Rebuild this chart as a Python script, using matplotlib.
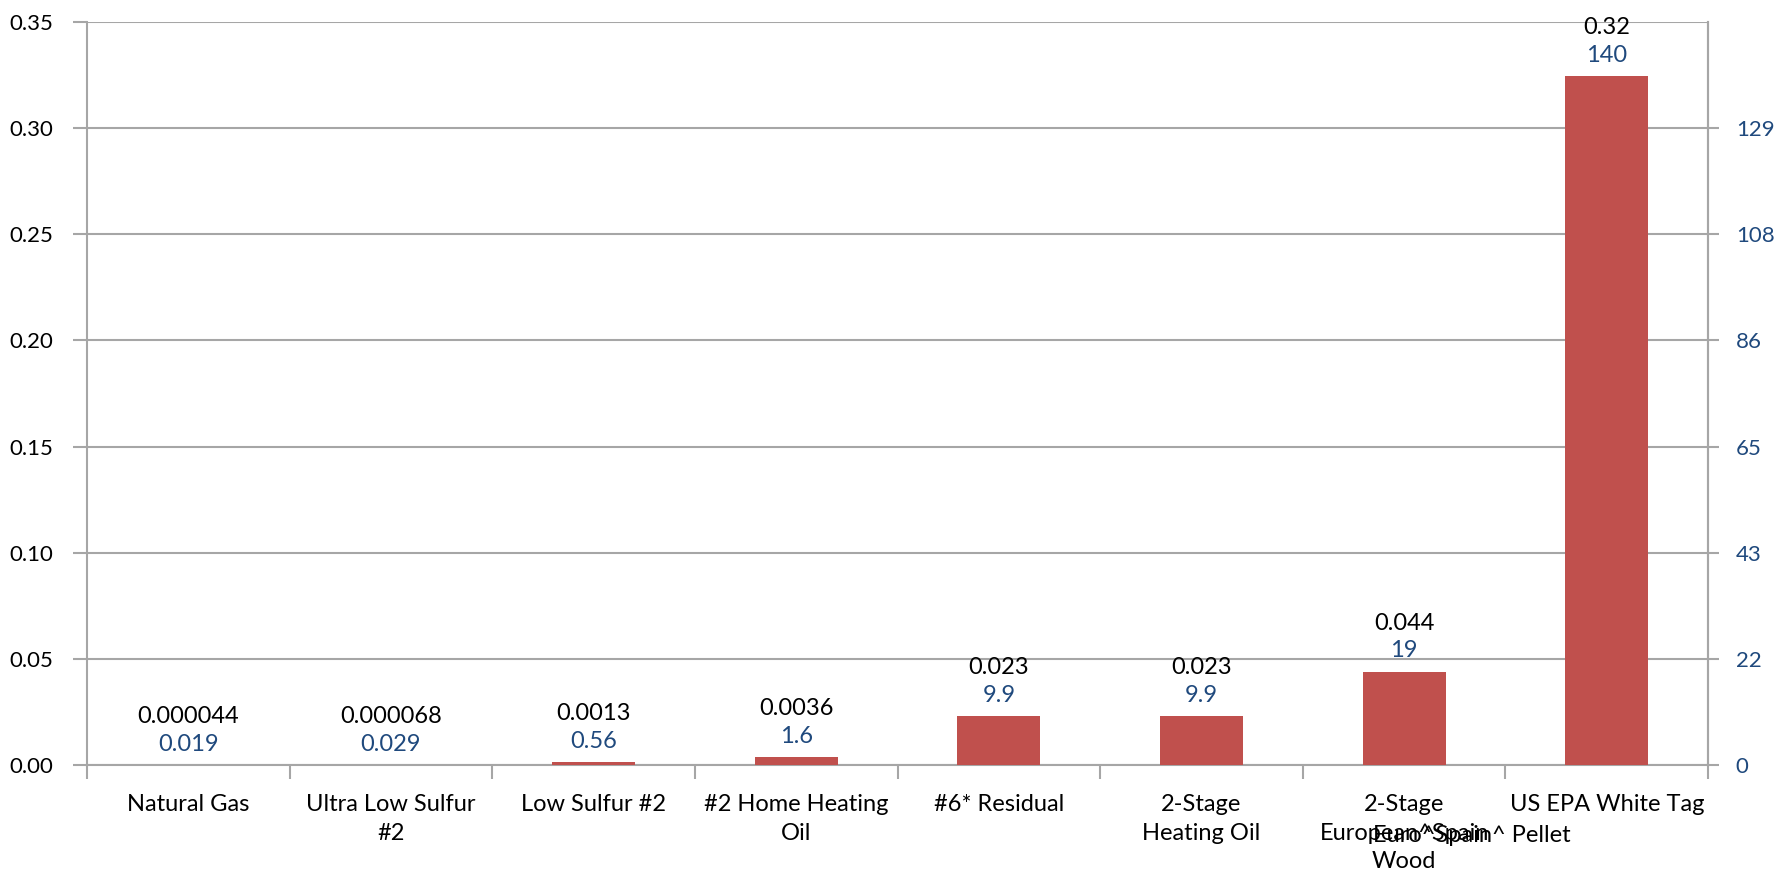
import numpy as np
import matplotlib
matplotlib.use("Agg")
import matplotlib.pyplot as plt
from matplotlib.ticker import FixedLocator

plt.rcParams['font.family'] = ['Lato', 'DejaVu Sans']

categories = ["Natural Gas", "Ultra Low Sulfur\n#2", "Low Sulfur #2",
              "#2 Home Heating\nOil", "#6* Residual", "2-Stage\nHeating Oil",
              "2-Stage\nEuropean^Spain\nWood", "US EPA White Tag"]
extra_label = "Euro^Spain^ Pellet"
left_values = [0.000044, 0.000068, 0.0013, 0.0036, 0.023, 0.023, 0.044, 0.3245]
right_values = [0.019, 0.029, 0.56, 1.6, 9.9, 9.9, 19, 140]
left_ticks = [0.00, 0.05, 0.10, 0.15, 0.20, 0.25, 0.30, 0.35]
right_factor = 431.0

BAR = '#C0504D'
BLUE = '#1F497D'
GRID = '#A6A6A6'
FS = 17

def fmt(v):
    return np.format_float_positional(v, precision=2, unique=False, fractional=False, trim='-')

fig = plt.figure(figsize=(17.91, 8.83), dpi=100)
ax = fig.add_axes([0.0486, 0.1336, 0.9051, 0.8415])
x = np.arange(len(categories))
ax.bar(x, left_values, width=0.41, color=BAR, zorder=3)

ax.set_xlim(-0.5, len(categories) - 0.5)
ax.set_ylim(left_ticks[0], left_ticks[-1])
ax.set_yticks(left_ticks)
ax.set_yticklabels([f"{t:.2f}" for t in left_ticks])
ax.grid(axis='y', color=GRID, lw=1.5, zorder=0)
ax.set_axisbelow(True)

ax.set_xticks(x)
ax.set_xticklabels(categories, fontsize=FS, linespacing=1.45)
ax.xaxis.set_minor_locator(FixedLocator(np.arange(len(categories) + 1) - 0.5))
ax.tick_params(axis='x', which='major', length=0, pad=21)
ax.tick_params(axis='x', which='minor', length=10, width=1.5, color=GRID)
ax.tick_params(axis='y', length=10, width=1.5, color=GRID, labelsize=16, pad=14)

ax.spines['top'].set_visible(False)
for s in ['left', 'bottom', 'right']:
    ax.spines[s].set_color(GRID)
    ax.spines[s].set_linewidth(1.5)

ax.annotate(extra_label, xy=(len(categories) - 1 - 0.18, 0), xycoords=('data', 'axes fraction'),
            xytext=(0, -51), textcoords='offset points', ha='right', va='center', fontsize=FS)

for xi, lv, rv in zip(x, left_values, right_values):
    ax.annotate(fmt(rv), (xi, lv), xytext=(0, 15), textcoords='offset points',
                ha='center', va='center', color=BLUE, fontsize=FS)
    ax.annotate(fmt(lv), (xi, lv), xytext=(0, 35), textcoords='offset points',
                ha='center', va='center', color='black', fontsize=FS)

ax2 = ax.twinx()
ax2.set_ylim(left_ticks[0] * right_factor, left_ticks[-1] * right_factor)
rt = [t * right_factor for t in left_ticks[:-1]]
ax2.set_yticks(rt)
ax2.set_yticklabels([f"{t:.0f}" for t in rt])
ax2.tick_params(axis='y', length=8, width=1.5, color=GRID, labelsize=16, labelcolor=BLUE, pad=12)
for s in ['top', 'left', 'bottom']:
    ax2.spines[s].set_visible(False)
ax2.spines['right'].set_color(GRID)
ax2.spines['right'].set_linewidth(1.5)

fig.savefig("out.png", dpi=100)
